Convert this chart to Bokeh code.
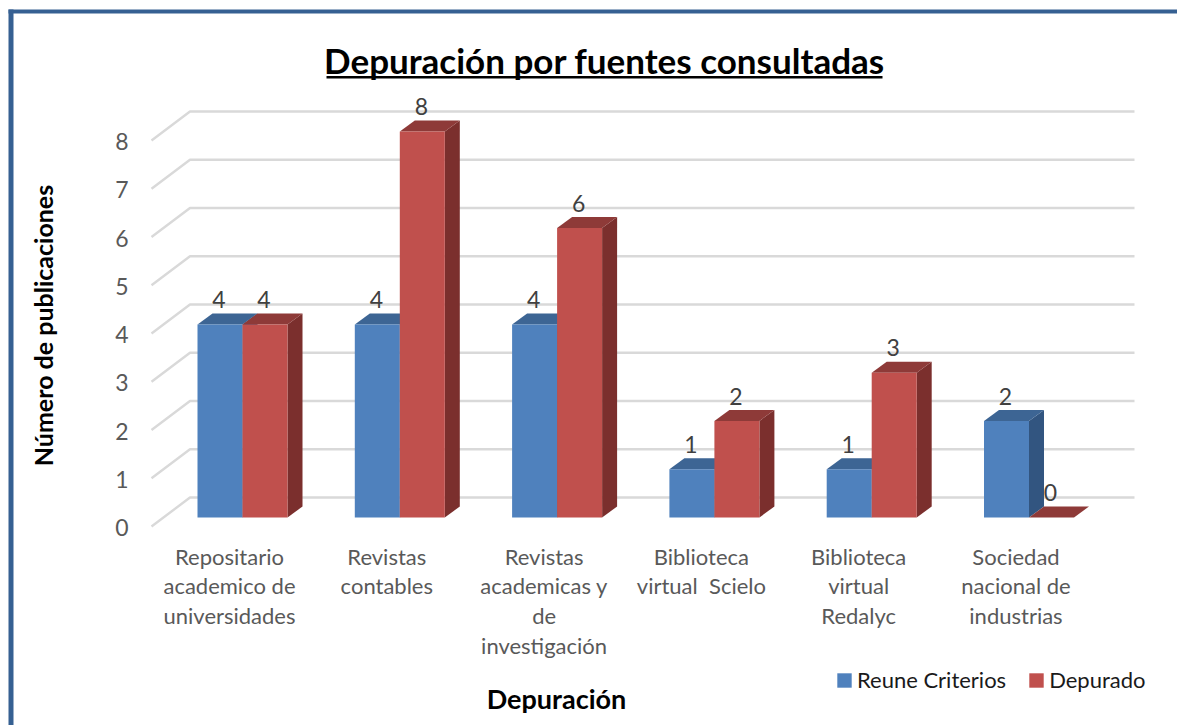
import math
from bokeh.plotting import figure
from bokeh.models import Range1d, LinearAxis, FixedTicker, Label, Legend, LegendItem, ColumnDataSource
from bokeh.core.properties import value
from bokeh.embed import file_html
from bokeh.resources import INLINE

categories = ["Repositario\nacademico de\nuniversidades", "Revistas\ncontables",
              "Revistas\nacademicas y\nde\ninvestigación", "Biblioteca\nvirtual \u00a0Scielo",
              "Biblioteca\nvirtual\nRedalyc", "Sociedad\nnacional de\nindustrias"]
reune = [4, 4, 4, 1, 1, 2]
depurado = [4, 8, 6, 2, 3, 0]
y_ticks = [0, 1, 2, 3, 4, 5, 6, 7, 8]
title_text = "Depuración por fuentes consultadas"
x_title = "Depuración"
y_title = "Número de publicaciones"

FONT = "Lato"
W, H = 1177, 725
UX, UY = 157.3, 48.25          # px per category / per value unit
X0, Y0 = 242, 517              # px of category 0 / of value 0
BAR = 45 / UX                  # bar width
DX, DY = 15 / UX, 11 / UY      # bar depth
GDX, GDY = 38.5 / UX, 29 / UY  # floor depth
FLOOR = -9 / UY                # front edge of the floor, relative to the bar base


def px(x):
    return (x - X0) / UX


def py(y):
    return (Y0 - y) / UY


p = figure(width=W, height=H, output_backend="svg", toolbar_location=None,
           x_range=Range1d(px(0), px(W)), y_range=Range1d(py(H), py(0)),
           min_border_left=0, min_border_right=0, min_border_top=0, min_border_bottom=0,
           x_axis_type=None, y_axis_type=None, outline_line_color=None)
p.grid.visible = False

# axes sit on the front edge of the floor, so they have ranges of their own
p.extra_y_ranges["tick"] = Range1d(py(H) - FLOOR + 1 / UY, py(0) - FLOOR + 1 / UY)
p.extra_x_ranges["tick"] = Range1d(px(0) + 13 / UX, px(W) + 13 / UX)
yax = LinearAxis(y_range_name="tick", ticker=FixedTicker(ticks=y_ticks), axis_line_color=None,
                 fixed_location=px(146), major_tick_line_color=None, minor_tick_line_color=None,
                 major_label_standoff=12, major_label_text_font=FONT, major_label_text_font_size="23px",
                 major_label_text_color="#595959")
xax = LinearAxis(x_range_name="tick", ticker=FixedTicker(ticks=list(range(len(categories)))),
                 fixed_location=py(535), axis_line_color=None, major_tick_line_color=None,
                 minor_tick_line_color=None, major_label_standoff=1,
                 major_label_overrides={i: c for i, c in enumerate(categories)},
                 major_label_text_font=FONT, major_label_text_font_size="22px",
                 major_label_text_color="#595959", major_label_text_line_height=1.1)
p.add_layout(yax, "left")
p.add_layout(xax, "below")

# window frame of the chart and the underline of the title
p.quad(left=[px(8), px(8), px(326)], right=[px(13), px(W), px(882)],
       top=[py(9), py(9), py(75.5)], bottom=[py(H), py(13), py(78)],
       fill_color=["#366092", "#366092", "#000000"], line_color=None)

# gridlines: a slanted piece on the left wall and a long one on the back wall
x_start, x_back, x_end = px(151), px(151) + GDX, px(1134)
p.multi_line([[x_start, x_back, x_end] for _ in y_ticks],
             [[v + FLOOR, v + FLOOR + GDY, v + FLOOR + GDY] for v in y_ticks],
             line_color="#D9D9D9", line_width=2.4)


def bar_parts(vals, x_shift):
    xs = [i + x_shift for i in range(len(vals))]
    side = ([[x + BAR, x + BAR + DX, x + BAR + DX, x + BAR] for x in xs],
            [[0, DY, v + DY, v] for v in vals])
    top = ([[x, x + DX, x + BAR + DX, x + BAR] for x in xs],
           [[v, v + DY, v + DY, v] for v in vals])
    return xs, side, top


renderers = []
for vals, shift, front, top_c, side_c in [(reune, -BAR, "#4F81BD", "#3D6594", "#325580"),
                                          (depurado, 0, "#C0504D", "#8E3A38", "#7B2F2D")]:
    xs, side, top = bar_parts(vals, shift)
    p.patches(side[0], side[1], fill_color=side_c, line_color=None)
    p.patches(top[0], top[1], fill_color=top_c, line_color=None)
    r = p.quad(left=xs, right=[x + BAR for x in xs], bottom=[0] * len(vals), top=vals,
               fill_color=front, line_color=None)
    renderers.append(r)
    src = ColumnDataSource(dict(x=[x + (BAR - 2 / UX) / 2 for x in xs], y=[v + 25 / UY for v in vals],
                                t=[str(v) for v in vals]))
    p.text("x", "y", text="t", source=src, text_align="center", text_baseline="middle",
           text_font=value(FONT), text_font_size="23px", text_color="#404040")

legend = Legend(items=[LegendItem(label="Reune Criterios", renderers=[renderers[0]]),
                       LegendItem(label="Depurado", renderers=[renderers[1]])],
                orientation="horizontal", location=(835, 32), background_fill_alpha=0,
                border_line_color=None, label_text_font=FONT, label_text_font_size="22px",
                label_text_color="#1a1a1a", glyph_width=18, glyph_height=18, spacing=21,
                label_standoff=4, margin=0, padding=4)
p.add_layout(legend, "center")

p.add_layout(Label(x=px(604), y=py(59), text=title_text, text_font=FONT, text_font_size="35px",
                   text_font_style="bold", text_align="center", text_baseline="middle",
                   text_color="#000000"))
p.add_layout(Label(x=px(42), y=py(325), text=y_title, angle=math.pi / 2,
                   text_font=FONT, text_font_size="25px", text_font_style="bold", text_align="center",
                   text_baseline="middle", text_color="#000000"))
p.add_layout(Label(x=px(556), y=py(698), text=x_title,
                   text_font=FONT, text_font_size="27px", text_font_style="bold", text_align="center",
                   text_baseline="middle", text_color="#000000"))

open("out.html", "w").write(file_html(p, INLINE))
